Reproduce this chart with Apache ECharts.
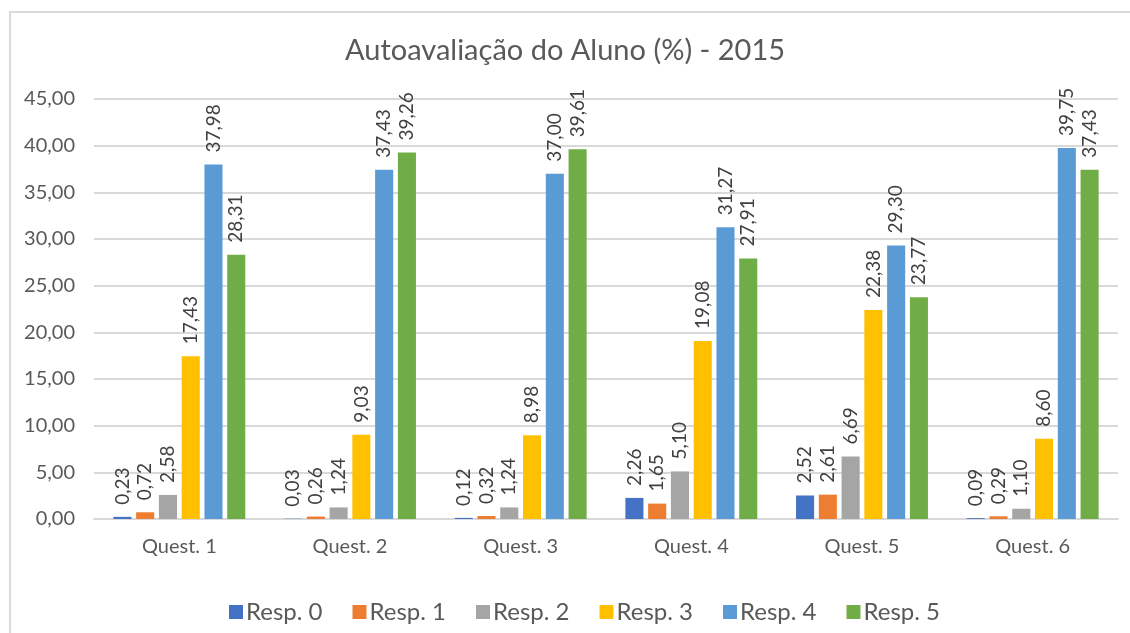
<!DOCTYPE html>
<html>
<head>
<meta charset="utf-8">
<script src="https://cdn.jsdelivr.net/npm/echarts@6/dist/echarts.min.js"></script>
<style>
html,body{margin:0;padding:0;background:#fff;}
#chart{width:1130px;height:633px;}
#frame{position:absolute;left:9px;top:11px;width:1130px;height:640px;border-top:2px solid #d9d9d9;border-left:2px solid #d9d9d9;pointer-events:none;}
</style>
</head>
<body>
<div id="chart"></div>
<div id="frame"></div>
<script>
const categories = ['Quest. 1','Quest. 2','Quest. 3','Quest. 4','Quest. 5','Quest. 6'];
const seriesNames = ['Resp. 0','Resp. 1','Resp. 2','Resp. 3','Resp. 4','Resp. 5'];
const resp0 = [0.23, 0.03, 0.12, 2.26, 2.52, 0.09];
const resp1 = [0.72, 0.26, 0.32, 1.65, 2.61, 0.29];
const resp2 = [2.58, 1.24, 1.24, 5.10, 6.69, 1.10];
const resp3 = [17.43, 9.03, 8.98, 19.08, 22.38, 8.60];
const resp4 = [37.98, 37.43, 37.00, 31.27, 29.30, 39.75];
const resp5 = [28.31, 39.26, 39.61, 27.91, 23.77, 37.43];
const colors = ['#4472c4','#ed7d31','#a5a5a5','#ffc000','#5b9bd5','#70ad47'];
const allData = [resp0, resp1, resp2, resp3, resp4, resp5];

const fmt = v => v.toFixed(2).replace('.', ',');
const FONT = 'Lato, "Open Sans", sans-serif';

const chart = echarts.init(document.getElementById('chart'));
chart.setOption({
  animation: false,
  color: colors,
  title: {
    text: 'Autoavaliação do Aluno (%) - 2015',
    left: 'center', top: 31,
    textStyle: {fontFamily: FONT, fontSize: 29, fontWeight: 'normal', color: '#595959'}
  },
  legend: {
    data: seriesNames,
    top: 595, left: 224,
    itemWidth: 14, itemHeight: 14, itemGap: 30,
    icon: 'rect',
    textStyle: {fontFamily: FONT, fontSize: 24, color: '#595959', padding: [0,0,0,-2]}
  },
  grid: {left: 94, right: 12, top: 99, bottom: 114},
  xAxis: {
    type: 'category', data: categories,
    axisTick: {show: false},
    axisLine: {lineStyle: {color: '#d9d9d9', width: 2}},
    axisLabel: {fontFamily: FONT, fontSize: 20, color: '#595959', margin: 18}
  },
  yAxis: {
    type: 'value', min: 0, max: 45, interval: 5,
    axisLine: {show: false}, axisTick: {show: false},
    splitLine: {lineStyle: {color: '#d9d9d9', width: 2}},
    axisLabel: {fontFamily: FONT, fontSize: 20, color: '#595959', margin: 19, formatter: v => fmt(v)}
  },
  series: allData.map((d, i) => ({
    name: seriesNames[i], type: 'bar', data: d,
    barGap: '26%', barCategoryGap: '22.7%',
    itemStyle: {color: colors[i]},
    label: {
      show: true, position: 'top', rotate: 90, align: 'left', verticalAlign: 'middle',
      distance: 12, fontFamily: FONT, fontSize: 19, color: '#404040',
      formatter: p => fmt(p.value)
    }
  }))
});
</script>
</body>
</html>
